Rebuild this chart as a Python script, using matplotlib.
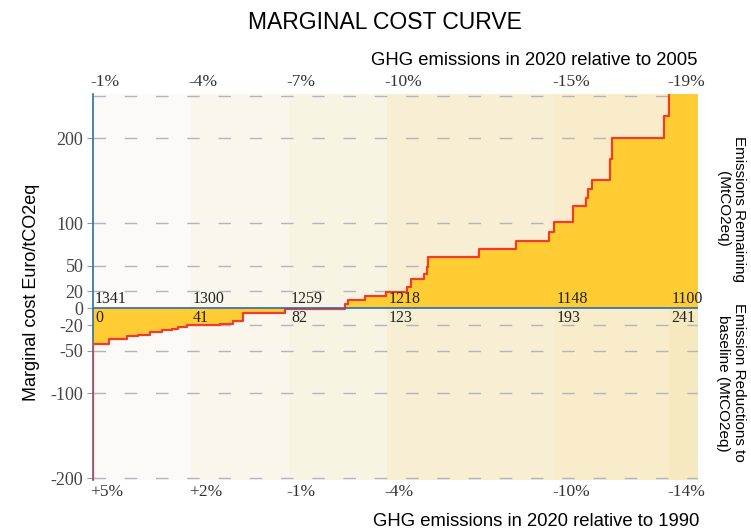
import numpy as np
import matplotlib
matplotlib.use("Agg")
from matplotlib import pyplot as plt

# step edges (cumulative reductions, MtCO2eq) and marginal cost of each step
step_edges = [0, 6.8, 14.2, 18.8, 23.8, 28.9, 33.1, 35.6, 39.3, 53.1, 58.6, 62.8,
              80.3, 105.4, 106.8, 113.8, 122.6, 131.5, 132.9, 138.5, 139.6,
              140.2, 161.5, 176.8, 190.9, 192.6, 200.8, 206.3, 207.1, 208.7,
              216.0, 217.2, 238.6, 240.7, 253]
step_costs = [-42, -36, -33, -31, -28, -26, -24, -22, -20, -18, -15, -5,
              -1, 5, 10, 15, 19, 25, 35, 40, 49, 60, 70, 79, 90, 101, 120,
              130, 140, 151, 175, 200, 226, 400]

band_edges = [0, 41, 82, 123, 193, 241, 253]
band_colors = ["#fcf9f6", "#faf6ec", "#f8f4e4", "#f8eed4", "#f9ecca", "#f7e9bf"]
reductions = [0, 41, 82, 123, 193, 241]
remaining = [1341, 1300, 1259, 1218, 1148, 1100]
rel_2005 = ["-1%", "-4%", "-7%", "-10%", "-15%", "-19%"]
rel_1990 = ["+5%", "+2%", "-1%", "-4%", "-10%", "-14%"]
grid_levels = [250, 200, 100, 50, 20, -20, -50, -100, -200]
ytick_vals = [200, 100, 50, 20, 0, -20, -50, -100, -200]

fig = plt.figure(figsize=(7.51, 5.31), dpi=100)
ax = fig.add_axes([0.1238, 0.096, 0.8056, 0.727])
ax.set_xlim(0, 253)
ax.set_ylim(-202, 252)

for i in range(len(band_colors)):
    ax.axvspan(band_edges[i], band_edges[i + 1], color=band_colors[i], lw=0, zorder=0)

for g in grid_levels:
    ax.axhline(g, color="#b4b4bc", lw=1, dashes=(9, 13.5), zorder=1)

xs = np.array(step_edges)
ys = np.array(step_costs + [step_costs[-1]])
ax.fill_between(xs, ys, 0, step="post", color="#ffcc33", lw=0, zorder=2)
ax.step(xs, ys, where="post", color="#f03c2a", lw=1.6, zorder=4)
ax.plot([0, 0], [-202, step_costs[0]], color="#f03c2a", lw=1.6, zorder=4)
ax.axhline(0, color="#2a6db0", lw=1.2, zorder=5)

serif = "Liberation Serif"
for x, r, top, bot in zip(reductions, remaining, rel_2005, rel_1990):
    ax.text(x + 0.8, 1.5, str(r), ha="left", va="bottom", fontsize=11.5,
            family=serif, color="#222222", zorder=6)
    ax.text(x + 0.8, -1.5, str(x), ha="left", va="top", fontsize=11.5,
            family=serif, color="#222222", zorder=6)
    ax.text(x - 1, 257, top, ha="left", va="bottom", fontsize=12.5,
            family=serif, color="#333333")
    ax.text(x - 1, -207, bot, ha="left", va="top", fontsize=12.5,
            family=serif, color="#333333")

for s in ["top", "right", "bottom"]:
    ax.spines[s].set_visible(False)
ax.spines["left"].set_color("#2a6db0")
ax.spines["left"].set_linewidth(1.2)
ax.spines["left"].set_zorder(3)
ax.set_xticks([])
ax.set_yticks(ytick_vals)
ax.set_yticklabels([str(v) for v in ytick_vals], family=serif, fontsize=13,
                   color="#444444")
ax.tick_params(axis="y", length=4, color="#999999", pad=3)

sans = "Liberation Sans"
fig.text(0.513, 0.958, "MARGINAL COST CURVE", ha="center", va="center",
         fontsize=16.5, family=sans)
fig.text(0.712, 0.887, "GHG emissions in 2020 relative to 2005", ha="center",
         va="center", fontsize=13.3, family=sans)
fig.text(0.714, 0.017, "GHG emissions in 2020 relative to 1990", ha="center",
         va="center", fontsize=13.3, family=sans)
fig.text(0.042, 0.45, "Marginal cost Euro/tCO2eq", rotation=90, ha="center",
         va="center", fontsize=13, family=sans)
fig.text(0.9734, 0.606, "Emissions Remaining\n(MtCO2eq)", rotation=270,
         ha="center", va="center", fontsize=11, family=sans, linespacing=1.15)
fig.text(0.9734, 0.279, "Emission Reductions to\nbaseline (MtCO2eq)", rotation=270,
         ha="center", va="center", fontsize=11, family=sans, linespacing=1.15)

fig.savefig("out.png", dpi=100)
